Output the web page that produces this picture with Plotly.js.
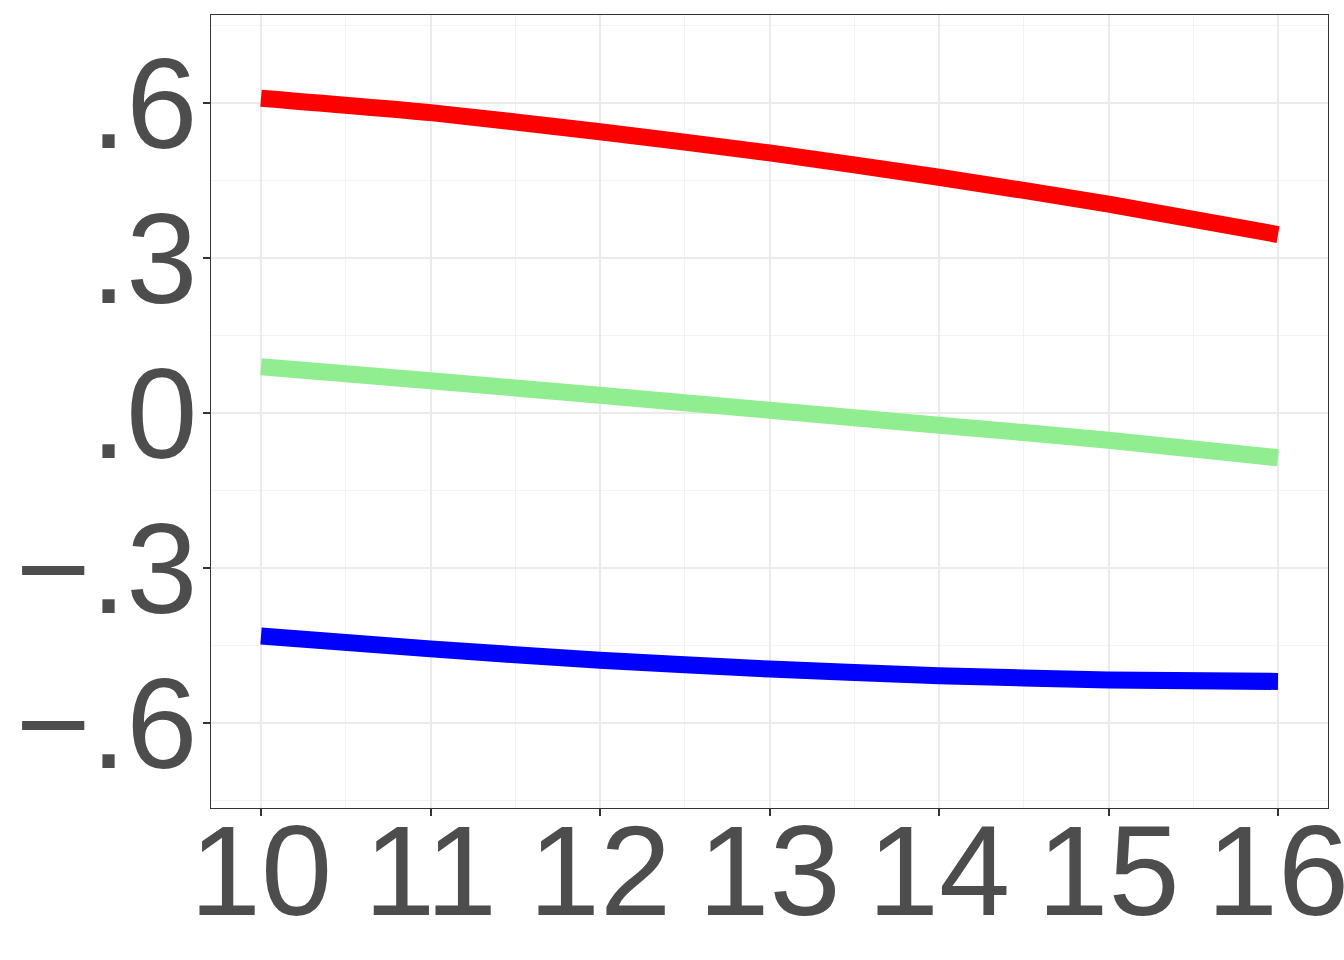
<!DOCTYPE html>
<html>
<head>
<meta charset="utf-8">
<script src="https://cdn.plot.ly/plotly-3.0.1.min.js"></script>
<style>html,body{margin:0;padding:0;background:#fff;}#chart{width:1344px;height:960px;}</style>
</head>
<body>
<div id="chart"></div>
<script>
var xValues = [10, 11, 12, 13, 14, 15, 16];
var redValues = [0.609, 0.581, 0.544, 0.503, 0.456, 0.404, 0.345];
var greenValues = [0.089, 0.062, 0.034, 0.005, -0.024, -0.053, -0.087];
var blueValues = [-0.432, -0.457, -0.479, -0.496, -0.509, -0.517, -0.520];
var yTickVals = [-0.6, -0.3, 0, 0.3, 0.6];
var yTickText = ['\u2212.6', '\u2212.3', '.0', '.3', '.6'];
var xTickVals = [10, 11, 12, 13, 14, 15, 16];
var xTickText = ['10', '11', '12', '13', '14', '15', '16'];

function series(y, color) {
  return {x: xValues, y: y, type: 'scatter', mode: 'lines',
    line: {color: color, width: 17, shape: 'spline', smoothing: 0.6}, hoverinfo: 'skip', showlegend: false};
}
var data = [series(redValues, '#FF0000'), series(greenValues, '#90EE90'), series(blueValues, '#0000FF')];

var layout = {
  width: 1344, height: 960,
  margin: {l: 211, r: 16, t: 15, b: 152},
  paper_bgcolor: '#FFFFFF', plot_bgcolor: '#FFFFFF',
  font: {family: '"Liberation Sans", Arial, sans-serif', color: '#4D4D4D'},
  showlegend: false,
  xaxis: {
    range: [9.705, 16.295], tickmode: 'array', tickvals: xTickVals, ticktext: xTickText,
    tickfont: {size: 128, color: '#4D4D4D'},
    ticks: 'outside', ticklen: 7, tickwidth: 2, tickcolor: '#333333',
    ticklabelstandoff: -55, ticklabeloverflow: 'allow',
    showgrid: true, gridcolor: '#EBEBEB', gridwidth: 2,
    minor: {tickmode: 'array', tickvals: [10.5, 11.5, 12.5, 13.5, 14.5, 15.5], showgrid: true, gridcolor: '#F3F3F3', gridwidth: 1, ticks: ''},
    showline: true, linecolor: '#333333', linewidth: 1, mirror: true, zeroline: false
  },
  yaxis: {
    range: [-0.765, 0.770], tickmode: 'array', tickvals: yTickVals, ticktext: yTickText,
    tickfont: {size: 128, color: '#4D4D4D'},
    ticks: 'outside', ticklen: 7, tickwidth: 2, tickcolor: '#333333',
    ticklabelstandoff: -20, ticklabeloverflow: 'allow',
    showgrid: true, gridcolor: '#EBEBEB', gridwidth: 2,
    minor: {tickmode: 'array', tickvals: [-0.75, -0.45, -0.15, 0.15, 0.45, 0.75], showgrid: true, gridcolor: '#F3F3F3', gridwidth: 1, ticks: ''},
    showline: true, linecolor: '#333333', linewidth: 1, mirror: true, zeroline: false
  }
};
Plotly.newPlot('chart', data, layout, {staticPlot: true, displayModeBar: false});
</script>
</body>
</html>
